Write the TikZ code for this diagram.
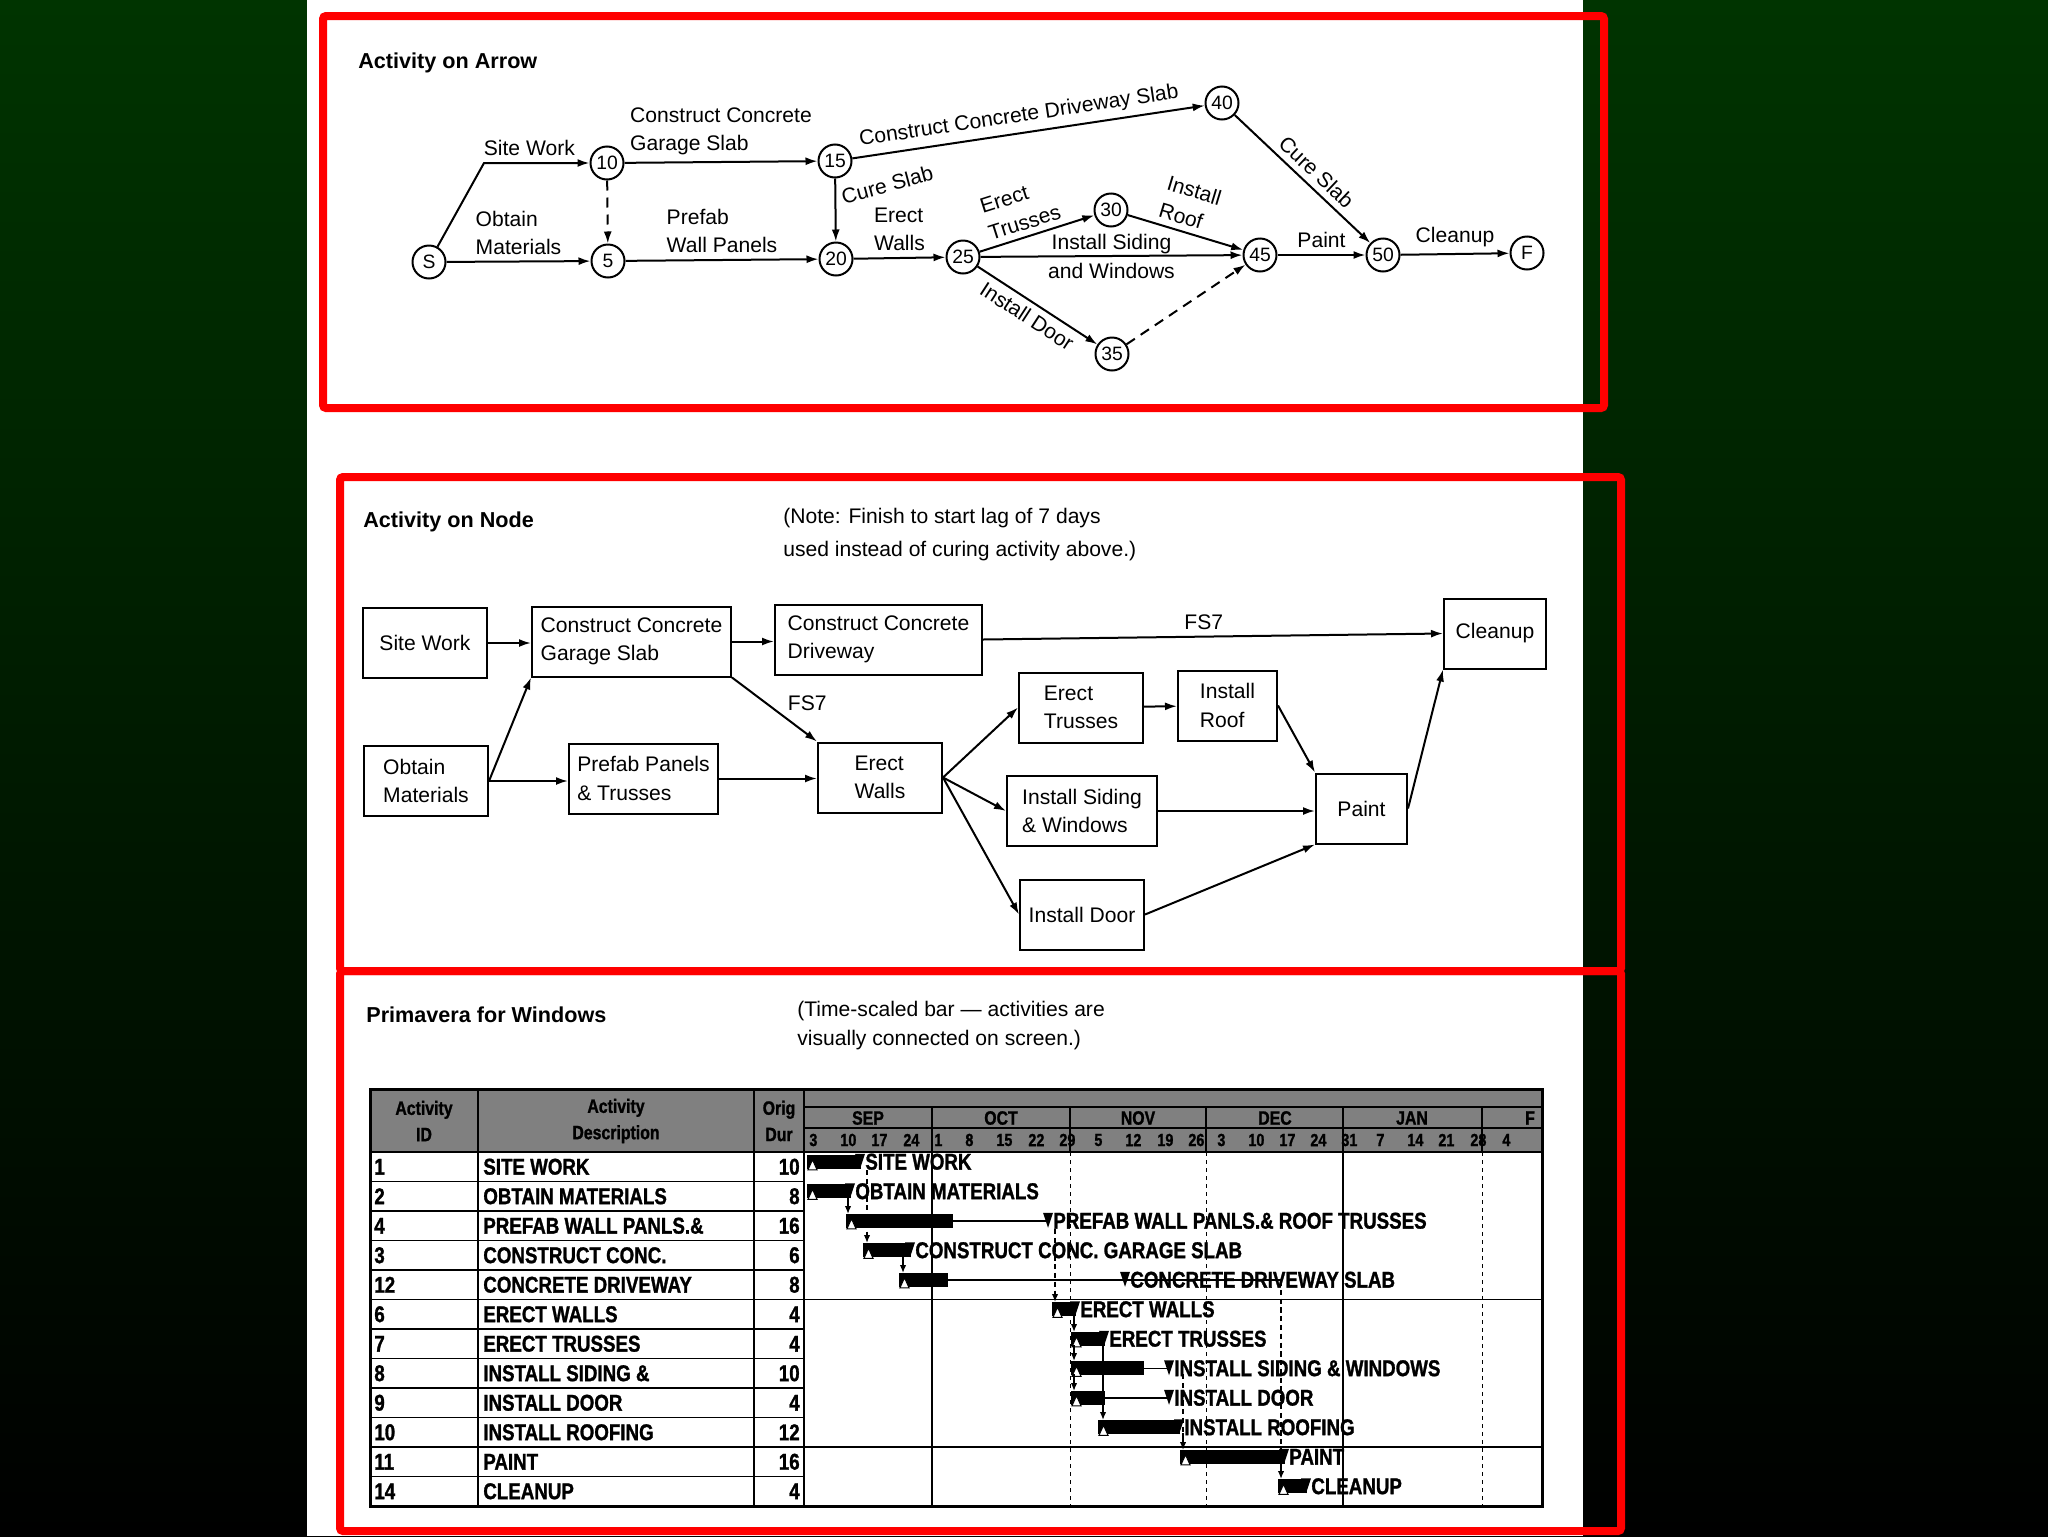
\documentclass[tikz,border=0pt]{standalone}
\usepackage{fontspec}
\setmainfont{Liberation Sans}
\newfontfamily\ganttfont{Liberation Sans}[FakeStretch=0.82, BoldFeatures={FakeBold=1.2}]
\usetikzlibrary{arrows.meta,positioning}

\definecolor{slidegreen}{RGB}{0,52,0}
\definecolor{framered}{RGB}{255,0,0}
\definecolor{hatchgray}{RGB}{128,128,128}

\tikzset{
  evt/.style={circle, draw, line width=0.4mm, minimum size=6.6mm, inner sep=0pt, font=\fontsize{11}{11}\selectfont},
  act/.style={rectangle, draw, line width=0.4mm, minimum height=14mm, align=left, inner sep=0pt},
  arrow/.style={line width=0.4mm, -{Latex[length=2.4mm,width=1.6mm]}},
  dep/.style={line width=0.3mm, -{Latex[length=1.6mm,width=1.3mm]}},
  dashline/.style={dash pattern=on 2mm off 1.4mm},
  title/.style={anchor=west, inner sep=0pt, font=\fontsize{12.3}{14}\selectfont\bfseries},
  note/.style={anchor=west, inner sep=0pt},
  gtext/.style={inner sep=0pt, font=\ganttfont\bfseries\fontsize{13}{13}\selectfont},
  redframe/.style={draw=framered, line width=1.6mm, rounded corners=0.6mm}
}

\begin{document}
\begin{tikzpicture}[x=0.2mm, y=-0.2mm, font=\fontsize{12}{16}\selectfont]
\useasboundingbox (0,0) rectangle (2048,1536);
% slide and page
\shade[top color=slidegreen, bottom color=black] (0,0) rectangle (2048,1536);
\fill[white] (307,0) rectangle (1583,1536);

% ---- activity on arrow ----
\node[title] at (358,63) {Activity on Arrow};
\node (S)   [evt] at (429,262) {S};
\node (n10) [evt] at (607,163) {10};
\node (n5)  [evt] at (608,261) {5};
\node (n15) [evt] at (835,161) {15};
\node (n20) [evt] at (836,259) {20};
\node (n25) [evt] at (963,257) {25};
\node (n30) [evt] at (1111,210) {30};
\node (n35) [evt] at (1112,354) {35};
\node (n40) [evt] at (1222,103) {40};
\node (n45) [evt] at (1260,255) {45};
\node (n50) [evt] at (1383,255) {50};
\node (F)   [evt] at (1527,253) {F};
\coordinate (swk) at (484,163);

\draw[arrow] (S) -- (swk) -- node[above, pos=.43] {Site Work} (n10);
\draw[arrow] (S) -- node[above, align=left] {Obtain\\Materials} (n5);
\draw[arrow, dashline] (n10) -- (n5);
\draw[arrow] (n10) -- node[above, align=left] {Construct Concrete\\Garage Slab} (n15);
\draw[arrow] (n5) -- node[above, align=left] {Prefab\\Wall Panels} (n20);
\draw[arrow] (n15) -- node[pos=.32, anchor=west, rotate=15] {Cure Slab} (n20);
\draw[arrow] (n15) -- node[sloped, above, pos=.48] {Construct Concrete Driveway Slab} (n40);
\draw[arrow] (n20) -- node[above, align=left] {Erect\\Walls} (n25);
\draw[arrow] (n25) -- node[sloped, above, align=left, pos=.43] {Erect\\Trusses} (n30);
\draw[arrow] (n25) -- node[above, yshift=-1mm] {Install Siding} node[below] {and Windows} (n45);
\draw[arrow] (n25) -- node[sloped, below, pos=.48] {Install Door} (n35);
\draw[arrow] (n30) -- node[sloped, above, align=left, pos=.47] {Install\\Roof} (n45);
\draw[arrow, dashline] (n35) -- (n45);
\draw[arrow] (n40) -- node[sloped, above, pos=.53] {Cure Slab} (n50);
\draw[arrow] (n45) -- node[above] {Paint} (n50);
\draw[arrow] (n50) -- node[above] {Cleanup} (F);

% ---- activity on node ----
\node[title] at (363,522) {Activity on Node};
\node[note] at (783,518) {(Note: Finish to start lag of 7 days};
\node[note] at (783,551) {used instead of curing activity above.)};

\node (sitework) [act, minimum width=24.8mm] at (425,643) {Site Work};
\node (garage)   [act, minimum width=39.8mm] at (631.5,641.5) {Construct Concrete\\Garage Slab};
\node (drive)    [act, minimum width=41.4mm] at (878.5,639.5) {Construct Concrete\\Driveway};
\node (obtain)   [act, minimum width=24.8mm] at (426,781) {Obtain\\Materials};
\node (prefab)   [act, minimum width=29.8mm] at (643.5,778.5) {Prefab Panels\\\& Trusses};
\node (walls)    [act, minimum width=24.8mm] at (880,777.5) {Erect\\Walls};
\node (trusses)  [act, minimum width=24.8mm] at (1081,707.5) {Erect\\Trusses};
\node (roof)     [act, minimum width=19.8mm] at (1227.5,705.5) {Install\\Roof};
\node (siding)   [act, minimum width=30mm]   at (1082,811) {Install Siding\\\& Windows};
\node (door)     [act, minimum width=24.8mm] at (1082,914.5) {Install Door};
\node (paint)    [act, minimum width=18.2mm] at (1361.5,808.5) {Paint};
\node (cleanup)  [act, minimum width=20.4mm] at (1495,633.5) {Cleanup};

\draw[arrow] (sitework) -- (sitework -| garage.west);
\draw[arrow] (obtain.east) -- (garage.south west);
\draw[arrow] (obtain) -- (obtain -| prefab.west);
\draw[arrow] (garage) -- (garage -| drive.west);
\draw[arrow] (garage.south east) -- node[pos=.4, right=3mm] {FS7} (walls.north west);
\draw[arrow] (prefab) -- (prefab -| walls.west);
\draw[arrow] (drive.east) -- node[above, pos=.48] {FS7} (cleanup.west);
\draw[arrow] (walls.east) -- (trusses.west);
\draw[arrow] (walls.east) -- (siding.west);
\draw[arrow] (walls.east) -- (door.west);
\draw[arrow] (trusses) -- (roof);
\draw[arrow] (roof.east) -- (paint.north west);
\draw[arrow] (siding) -- (siding -| paint.west);
\draw[arrow] (door.east) -- (paint.south west);
\draw[arrow] (paint.east) -- (cleanup.south west);

% ---- primavera bar chart ----
\node[title] at (366,1015) {Primavera for Windows};
\node[note] at (797,1011) {(Time-scaled bar --- activities are};
\node[note] at (797,1040) {visually connected on screen.)};

% header
\fill[hatchgray] (370,1089) rectangle (1542,1152);
\node[gtext, align=center, font=\ganttfont\bfseries\fontsize{11}{15}\selectfont] at (424,1121) {Activity\\ID};
\node[gtext, align=center, font=\ganttfont\bfseries\fontsize{11}{15}\selectfont] at (616,1121) {Activity\\Description};
\node[gtext, align=center, font=\ganttfont\bfseries\fontsize{11}{15}\selectfont] at (779,1121) {Orig\\Dur};
\draw[line width=0.3mm] (804,1107) -- (1542,1107) (804,1128) -- (1542,1128);
\foreach \x in {932,1070,1206,1343,1482}
  \draw[line width=0.3mm] (\x,1107) -- (\x,1152);
\foreach \m/\x in {SEP/868, OCT/1001, NOV/1138, DEC/1275, JAN/1412, F/1530}
  \node[gtext, font=\ganttfont\bfseries\fontsize{11}{11}\selectfont] at (\x,1118) {\m};
\foreach \d/\x in {3/807, 10/838, 17/869, 24/901, 1/932, 8/963, 15/994, 22/1026, 29/1057,
    5/1092, 12/1123, 19/1155, 26/1186, 3/1215, 10/1246, 17/1277, 24/1308, 31/1339,
    7/1374, 14/1405, 21/1436, 28/1468, 4/1500}
  \node[gtext, anchor=west, font=\ganttfont\bfseries\fontsize{10}{10}\selectfont] at (\x+2,1140) {\d};

% table rows
\foreach \id/\desc/\dur [count=\r] in {1/SITE WORK/10, 2/OBTAIN MATERIALS/8,
    4/PREFAB WALL PANLS.\&/16, 3/CONSTRUCT CONC./6, 12/CONCRETE DRIVEWAY/8,
    6/ERECT WALLS/4, 7/ERECT TRUSSES/4, 8/INSTALL SIDING \&/10, 9/INSTALL DOOR/4,
    10/INSTALL ROOFING/12, 11/PAINT/16, 14/CLEANUP/4}{
  \pgfmathsetmacro\yc{1152+(\r-0.5)*29.5}
  \node[gtext, anchor=west] at (374,\yc) {\id};
  \node[gtext, anchor=west] at (483,\yc) {\desc};
  \node[gtext, anchor=east] at (800,\yc) {\dur};
  \draw[line width=0.3mm] (370,1152+\r*29.5) -- (804,1152+\r*29.5);
}

% grid
\draw[line width=0.3mm] (370,1299.5) -- (1542,1299.5) (370,1447) -- (1542,1447);
\foreach \x in {932,1343}
  \draw[line width=0.3mm] (\x,1152) -- (\x,1506);
\foreach \x in {1070,1206,1482}
  \draw[line width=0.2mm, dash pattern=on 0.8mm off 0.8mm] (\x,1152) -- (\x,1506);
\draw[line width=0.3mm] (478,1089) -- (478,1506) (754,1089) -- (754,1506);
\draw[line width=0.5mm] (804,1089) -- (804,1506);
\draw[line width=0.5mm] (370,1152) -- (1542,1152);
\draw[line width=0.6mm] (370,1089) rectangle (1542,1506);

% bars
\draw[line width=0.3mm] (1126,1279.75) -- (1281,1279.75);
\foreach \r/\xs/\xe/\xf/\txt in {1/807/861/861/SITE WORK, 2/807/851/851/OBTAIN MATERIALS,
    3/846/953/1049/PREFAB WALL PANLS.\& ROOF TRUSSES, 4/863/911/911/CONSTRUCT CONC. GARAGE SLAB,
    5/899/948/1126/CONCRETE DRIVEWAY SLAB, 6/1052/1076/1076/ERECT WALLS,
    7/1071/1105/1105/ERECT TRUSSES, 8/1071/1144/1170/INSTALL SIDING \& WINDOWS,
    9/1071/1105/1170/INSTALL DOOR, 10/1098/1180/1180/INSTALL ROOFING,
    11/1180/1285/1285/PAINT, 12/1278/1307/1307/CLEANUP}{
  \pgfmathsetmacro\yb{1152+(\r-0.5)*29.5-5}
  \draw[line width=0.3mm] (\xe,\yb) -- (\xf,\yb);
  \fill (\xs,\yb-7) rectangle (\xe,\yb+7);
  \fill (\xf-6,\yb-8) -- (\xf+4,\yb-8) -- (\xf-1,\yb+7) -- cycle;
  \draw[fill=white, line width=0.2mm] (\xs+1,\yb+8) -- (\xs+10,\yb+8) -- (\xs+5.5,\yb-2) -- cycle;
  \node[gtext, anchor=west] at (\xf+4,\yb) {\txt};
}

% relationship lines
\draw[dep] (848,1197) -- (848,1214);
\draw[dep, densely dashed] (867,1170) -- (867,1243);
\draw[dep] (903,1256) -- (903,1273);
\draw[dep, densely dashed] (1055,1229) -- (1055,1302);
\draw[dep] (1074,1315) -- (1074,1332);
\draw[dep] (1074,1345) -- (1074,1361);
\draw[dep] (1074,1374) -- (1074,1391);
\draw[dep] (1103,1345) -- (1103,1420);
\draw[line width=0.3mm, densely dashed] (1183,1374) -- (1183,1433);
\draw[dep] (1183,1433) -- (1183,1450);
\draw[line width=0.3mm, densely dashed] (1281,1281) -- (1281,1463);
\draw[dep] (1281,1463) -- (1281,1479);

% red frames
\draw[redframe] (323,16) rectangle (1604,408);
\draw[redframe] (340,477) rectangle (1621,971);
\draw[redframe] (340,971) rectangle (1621,1531);
\end{tikzpicture}
\end{document}
